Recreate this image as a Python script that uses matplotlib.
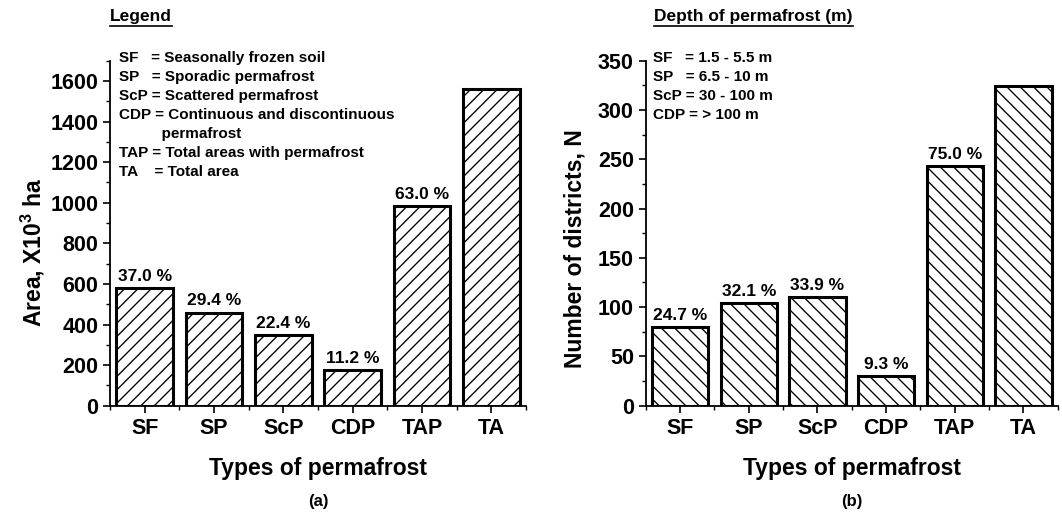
import matplotlib
matplotlib.use('Agg')
import matplotlib.pyplot as plt
from matplotlib.lines import Line2D

# render at dpi 120 so hatch spacing is a bit wider; sizes below are scaled
DPI = 120
S = 100 / DPI

plt.rcParams['font.family'] = 'Liberation Sans'
plt.rcParams['font.weight'] = 'bold'
plt.rcParams['mathtext.fontset'] = 'custom'
plt.rcParams['mathtext.rm'] = 'Liberation Sans:bold'
plt.rcParams['mathtext.bf'] = 'Liberation Sans:bold'
plt.rcParams['hatch.linewidth'] = 0.8

# categories
types = ['SF', 'SP', 'ScP', 'CDP', 'TAP', 'TA']

# (a) area, x10^3 ha
area = [578, 459, 350, 175, 984, 1562]
area_pct = ['37.0 %', '29.4 %', '22.4 %', '11.2 %', '63.0 %', '']

# (b) number of districts
districts = [80, 104, 110, 30, 243, 324]
districts_pct = ['24.7 %', '32.1 %', '33.9 %', '9.3 %', '75.0 %', '']

legend_a = ['SF   = Seasonally frozen soil',
            'SP   = Sporadic permafrost',
            'ScP = Scattered permafrost',
            'CDP = Continuous and discontinuous',
            '          permafrost',
            'TAP = Total areas with permafrost',
            'TA    = Total area']
legend_b = ['SF   = 1.5 - 5.5 m',
            'SP   = 6.5 - 10 m',
            'ScP = 30 - 100 m',
            'CDP = > 100 m']

W, H = 1062, 513
fig = plt.figure(figsize=(W / DPI, H / DPI), dpi=DPI)


def px(x, y):
    # figure fraction from pixel coords (top-left origin)
    return x / W, 1 - y / H


def panel(left, width, vals, pcts, ymax, major, minor, hatch, ylabel, lab_xy,
          sub, title, lines, tx0, lx):
    ax = fig.add_axes([left / W, (H - 405.7) / H, width / W, 345 / H])
    x = range(len(types))
    bars = ax.bar(x, vals, width=0.82, color='white', edgecolor='black',
                  linewidth=2.2 * S, hatch=hatch)
    for b, p in zip(bars, pcts):
        if p:
            ax.annotate(p, (b.get_x() + b.get_width() / 2, b.get_height()),
                        xytext=(0, 3 * S), textcoords='offset points',
                        ha='center', va='bottom', fontsize=12.5 * S,
                        fontweight='bold')
    ax.set_xlim(-0.5, 5.5)
    ax.set_ylim(0, ymax)
    ax.set_xticks(list(x))
    ax.set_xticklabels(types, fontsize=15.5 * S, fontweight='bold')
    ax.set_xticks([i - 0.5 for i in range(7)], minor=True)
    ax.set_yticks(range(0, ymax + 1, major))
    ax.set_yticks(range(0, ymax + 1, minor), minor=True)
    ax.tick_params(axis='y', labelsize=15.5 * S)
    ax.tick_params(which='major', direction='out', length=5 * S,
                   width=1.2 * S, pad=3.5 * S)
    ax.tick_params(which='minor', direction='out', length=3 * S,
                   width=1.0 * S)
    for lab in ax.get_yticklabels():
        lab.set_fontweight('bold')
    ax.spines['top'].set_visible(False)
    ax.spines['right'].set_visible(False)
    ax.spines['left'].set_linewidth(1.3 * S)
    ax.spines['bottom'].set_linewidth(1.3 * S)
    ax.set_xlabel('Types of permafrost', fontsize=16.5 * S,
                  fontweight='bold', labelpad=13 * S)
    ax.set_ylabel(ylabel, fontsize=16.5 * S, fontweight='bold', va='center')
    ax.yaxis.set_label_coords(*lab_xy)
    ax.text(0.5, -0.255, sub, transform=ax.transAxes, ha='center',
            va='top', fontsize=12 * S, fontweight='bold')

    tx, ty = px(tx0, 17)
    t = fig.text(tx, ty, title, fontsize=12.5 * S, fontweight='bold',
                 va='center', ha='left')
    for i, s in enumerate(lines):
        fx, fy = px(lx, 58 + 19 * i)
        fig.text(fx, fy, s, fontsize=11 * S, fontweight='bold',
                 va='center', ha='left')
    return t


ta = panel(110, 416, area, area_pct, 1700, 200, 100, '///',
           r'Area, X10$^{\mathbf{3}}$ ha', (-0.185, 0.445), '(a)', 'Legend',
           legend_a, 110, 119)
tb = panel(645.7, 412, districts, districts_pct, 350, 50, 25, '\\\\\\',
           'Number of districts, N', (-0.172, 0.454), '(b)',
           'Depth of permafrost (m)', legend_b, 654, 653)

fig.canvas.draw()
r = fig.canvas.get_renderer()
for t in (ta, tb):
    bb = t.get_window_extent(r)
    y = bb.y0 - 1
    fig.add_artist(Line2D([bb.x0 / W, bb.x1 / W], [y / H, y / H],
                          color='black', linewidth=1.2 * S,
                          transform=fig.transFigure))

fig.savefig('out.png', dpi=DPI)
